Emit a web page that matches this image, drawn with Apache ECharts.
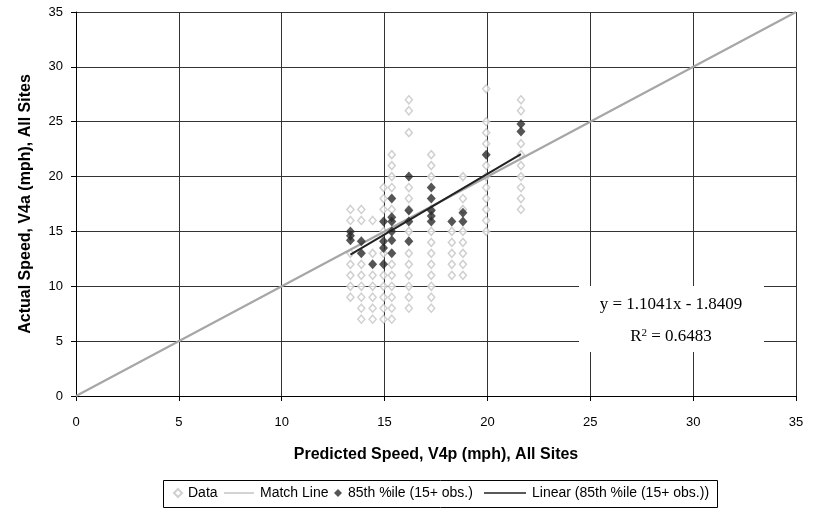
<!DOCTYPE html>
<html lang="en">
<head>
    <meta charset="UTF-8">
    <title>Actual vs Predicted Speed</title>
    <script src="https://cdn.jsdelivr.net/npm/echarts@6/dist/echarts.min.js"></script>
    <style>
        html, body, #chart {
            width: 814px;
            height: 525px;
            padding: 0;
            margin: 0;
            background: #fff;
        }
    </style>
</head>
<body>
<div id="chart"></div>
<script>
    // observed speeds, grouped by predicted-speed column
    var dataColumns = [13.34, 13.87, 14.42, 14.95, 15.35, 16.18, 17.27, 18.27, 18.81, 19.94, 21.63];
    var dataSpeeds = [
        [9, 10, 11, 12, 13, 16, 17],
        [7, 8, 9, 10, 11, 12, 16, 17],
        [7, 8, 9, 10, 11, 13, 16],
        [7, 8, 9, 10, 11, 13, 15, 17, 18, 19],
        [7, 8, 9, 10, 11, 12, 17, 19, 20, 21, 22],
        [8, 9, 10, 11, 12, 13, 15, 17, 18, 19, 24, 26, 27],
        [8, 9, 10, 11, 12, 13, 14, 15, 17, 20, 21, 22],
        [11, 12, 13, 14, 15],
        [11, 12, 13, 14, 15, 17, 18, 20],
        [15, 16, 17, 18, 19, 20, 21, 23, 24, 25, 28],
        [17, 18, 19, 20, 21, 22, 23, 26, 27]
    ];

    // 85th percentile speeds (15+ observations)
    var p85X = [13.34, 13.34, 13.34, 13.87, 13.87, 14.42, 14.95, 14.95, 14.95, 14.95,
        15.35, 15.35, 15.35, 15.35, 15.35, 15.35, 16.18, 16.18, 16.18, 16.18,
        17.27, 17.27, 17.27, 17.27, 17.27, 18.27, 18.81, 18.81, 19.94, 21.63, 21.63];
    var p85Y = [15.0, 14.6, 14.2, 14.1, 13.0, 12.0, 15.9, 14.1, 13.5, 12.0,
        18.0, 16.3, 15.9, 15.0, 14.2, 13.0, 20.0, 16.9, 15.9, 14.1,
        19.0, 18.0, 16.9, 16.4, 15.9, 15.9, 16.7, 15.9, 22.0, 24.8, 24.1];

    var matchLine = [[0, 0], [35, 35]];
    var trendSlope = 1.1041;
    var trendIntercept = -1.8409;

    var seriesNames = ["Data", "Match Line", "85th %ile (15+ obs.)", "Linear (85th %ile (15+ obs.))"];

    var dataPoints = [];
    dataColumns.forEach(function (x, i) {
        dataSpeeds[i].forEach(function (y) {
            dataPoints.push([x, y]);
        });
    });
    var p85Points = p85X.map(function (x, i) {
        return [x, p85Y[i]];
    });
    var xMin = Math.min.apply(null, p85X);
    var xMax = Math.max.apply(null, p85X);
    var trendLine = [
        [xMin, trendSlope * xMin + trendIntercept],
        [xMax, trendSlope * xMax + trendIntercept]
    ];

    var font = "Liberation Sans, Arial, sans-serif";
    var serif = "Liberation Serif, Times New Roman, serif";
    var lineIcon = "path://M0,0 L30,0 L30,1 L0,1 Z";

    // one legend per entry so markers and lines can have their own key size
    function legendEntry(name, left, w, h, icon) {
        return {
            data: [{name: name, icon: icon}],
            left: left,
            top: 486,
            padding: 0,
            itemWidth: w,
            itemHeight: h,
            itemGap: 0,
            selectedMode: false,
            textStyle: {fontSize: 14, color: "#000", fontFamily: font, padding: [0, 0, 0, 1]}
        };
    }

    var chart = echarts.init(document.getElementById("chart"));

    chart.setOption({
        animation: false,
        textStyle: {fontFamily: font},
        grid: {left: 76, right: 18, top: 12, bottom: 129},
        xAxis: {
            type: "value",
            min: 0,
            max: 35,
            interval: 5,
            name: "Predicted Speed, V4p (mph), All Sites",
            nameLocation: "middle",
            nameGap: 51,
            nameTextStyle: {fontSize: 16, fontWeight: "bold", color: "#000"},
            axisLine: {show: true, onZero: false, lineStyle: {color: "#000", width: 1}},
            axisTick: {show: true, length: 5, lineStyle: {color: "#000"}},
            axisLabel: {fontSize: 13, color: "#000", margin: 20},
            splitLine: {show: true, lineStyle: {color: "#333", width: 1}}
        },
        yAxis: {
            type: "value",
            min: 0,
            max: 35,
            interval: 5,
            name: "Actual Speed, V4a (mph), All Sites",
            nameLocation: "middle",
            nameGap: 42,
            nameTextStyle: {fontSize: 16, fontWeight: "bold", color: "#000"},
            axisLine: {show: true, onZero: false, lineStyle: {color: "#000", width: 1}},
            axisTick: {show: true, length: 5, lineStyle: {color: "#000"}},
            axisLabel: {fontSize: 13, color: "#000", margin: 13},
            splitLine: {show: true, lineStyle: {color: "#333", width: 1}}
        },
        legend: [
            legendEntry(seriesNames[0], 173, 8, 8, "diamond"),
            legendEntry(seriesNames[1], 224, 30, 1.2, lineIcon),
            legendEntry(seriesNames[2], 334, 8, 8, "diamond"),
            legendEntry(seriesNames[3], 484, 42, 1.5, lineIcon)
        ],
        graphic: [{
            type: "rect",
            z: 100,
            shape: {x: 163.5, y: 480.5, width: 554, height: 27},
            style: {fill: "none", stroke: "#000", lineWidth: 1}
        }, {
            type: "rect",
            z: 100,
            shape: {x: 579, y: 286, width: 185, height: 66},
            style: {fill: "#fff"}
        }, {
            type: "text",
            z: 101,
            x: 671,
            y: 305,
            style: {
                text: "y = 1.1041x - 1.8409",
                fontFamily: serif,
                fontSize: 17,
                fill: "#000",
                align: "center",
                verticalAlign: "middle"
            }
        }, {
            type: "text",
            z: 101,
            x: 671,
            y: 337,
            style: {
                text: "R{sup|2} = 0.6483",
                fontFamily: serif,
                fontSize: 17,
                fill: "#000",
                align: "center",
                verticalAlign: "middle",
                rich: {
                    sup: {
                        fontFamily: serif,
                        fontSize: 11,
                        verticalAlign: "top",
                        padding: [0, 0, 8, 0]
                    }
                }
            }
        }],
        series: [{
            name: seriesNames[0],
            type: "scatter",
            symbol: "diamond",
            symbolSize: [7, 8],
            itemStyle: {color: "#fff", borderColor: "#c4c4c4", borderWidth: 1.5},
            data: dataPoints,
            z: 2
        }, {
            name: seriesNames[1],
            type: "line",
            symbol: "none",
            lineStyle: {color: "#a6a6a6", width: 2},
            itemStyle: {color: "#a6a6a6"},
            data: matchLine,
            z: 3
        }, {
            name: seriesNames[2],
            type: "scatter",
            symbol: "diamond",
            symbolSize: [9, 10],
            itemStyle: {color: "#2b2b2b"},
            data: p85Points,
            z: 4
        }, {
            name: seriesNames[3],
            type: "line",
            symbol: "none",
            lineStyle: {color: "#222", width: 2},
            itemStyle: {color: "#222"},
            data: trendLine,
            z: 5
        }]
    });
</script>
</body>
</html>
